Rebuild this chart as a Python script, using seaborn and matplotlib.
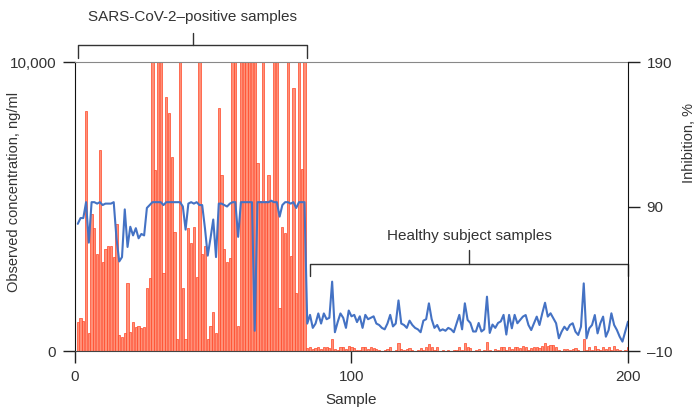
import pandas as pd
import seaborn as sns
import matplotlib.pyplot as plt

# observed concentration, ng/ml (clipped at 10,000)
positive_conc = [
    1000, 1140, 1050, 8300, 620, 4740, 4260, 3350, 6950, 3080,
    3530, 3640, 3640, 3250, 4390, 550, 480, 620, 2350, 660,
    1000, 830, 860, 800, 830, 2180, 2530, 10000, 6260, 10000,
    10000, 2700, 8790, 8240, 6710, 4120, 420, 10000, 2180, 420,
    4260, 3740, 4290, 2560, 10000, 3350, 3640, 420, 870, 1350,
    620, 8400, 6090, 3530, 3080, 3230, 10000, 10000, 870, 10000,
    10000, 10000, 10000, 10000, 10000, 6500, 5200, 10000, 5200, 6090,
    5200, 10000, 10000, 1500, 4300, 4100, 10000, 3300, 9100, 2000,
    10000, 6300, 10000, 100,
]
healthy_conc = [
    130, 60, 92, 127, 58, 127, 150, 92, 415, 58,
    40, 150, 127, 60, 185, 127, 92, 50, 40, 127,
    127, 60, 127, 92, 70, 40, 0, 30, 70, 127,
    0, 40, 275, 70, 40, 70, 92, 40, 0, 30,
    92, 50, 127, 240, 150, 40, 127, 0, 30, 0,
    40, 0, 30, 50, 127, 40, 275, 127, 92, 0,
    30, 58, 0, 30, 300, 40, 0, 58, 30, 127,
    150, 40, 150, 60, 150, 127, 92, 173, 127, 50,
    115, 150, 127, 92, 173, 265, 173, 196, 196, 150,
    35, 0, 58, 70, 20, 58, 92, 35, 0, 415,
    40, 127, 30, 173, 70, 30, 127, 58, 127, 30,
    173, 58, 20, 0, 30, 127,
]

# inhibition, %
positive_inhib = [
    78, 82, 82, 93, 65, 93, 93, 92, 93, 91,
    92, 92, 92, 93, 68, 52, 55, 88, 62, 76,
    70, 75, 68, 71, 70, 89, 91, 93, 93, 93,
    93, 91, 93, 93, 93, 93, 93, 93, 90, 74,
    92, 93, 92, 93, 91, 91, 75, 56, 68, 81,
    55, 92, 92, 91, 90, 92, 93, 93, 69, 93,
    93, 93, 93, 93, 4, 93, 93, 93, 93, 93,
    94, 93, 93, 83, 91, 93, 93, 92, 93, 89,
    93, 93, 93, 9,
]
healthy_inhib = [
    15, 6, 9, 16, 9, 16, 12, 13, 38, 3,
    10, 16, 13, 6, 18, 14, 15, 10, 14, 6,
    15, 12, 13, 14, 9, 8, 6, 5, 9, 15,
    7, 9, 25, 9, 8, 6, 11, 8, 6, 5,
    3, 11, 12, 23, 12, 6, 8, 4, 5, 4,
    6, 5, 3, 9, 15, 5, 23,
    11.5, 9.4, 3.5, 3.5, 9.4, 3.5, 5, 27.6, 2.5, 8.3,
    6, 9.4, 10.5, 15, 1.4, 15, 5.7, 15, 9.2, 11.5,
    13.8, 14.9, 8, 4.5, 9.2, 13.8, 8, 16.1, 23.4, 13.8,
    16.1, 12.6, 9.2, -1.2, 3.4, 6.8, 4.5, 8, 9.2, 3.4,
    1.1, 6.8, 36.8, -1.2, 5.7, 8, 14.9, 2.2, 9.2, 13.8,
    -0.1, 4.5, 16.1, 8, 4.5, -0.1, -3.5, 3.4, 10.3,
]

group_labels = ["SARS-CoV-2\u2013positive samples", "Healthy subject samples"]
left_ticks = [0, 10000]
left_ticklabels = ["0", "10,000"]
right_ticks = [-10, 90, 190]
right_ticklabels = ["\u201310", "90", "190"]
x_ticks = [0, 100, 200]

n_pos = len(positive_conc)
df = pd.DataFrame({
    "sample": list(range(1, n_pos + len(healthy_conc) + 1)),
    "conc": positive_conc + healthy_conc,
    "inhib": positive_inhib + healthy_inhib,
})

sns.set_style("ticks")
plt.rcParams["font.family"] = ["Liberation Sans", "DejaVu Sans"]
txt = "#333333"

fig, ax = plt.subplots(figsize=(6.99, 4.15), dpi=100)
fig.subplots_adjust(left=0.1073, right=0.8984, bottom=0.1542, top=0.8506)

sns.barplot(data=df, x="sample", y="conc", native_scale=True, width=0.8,
            color="#ff9078", edgecolor="#ff4626", linewidth=0.5,
            saturation=1, errorbar=None, ax=ax)
ax.set_xlim(0, 200)
ax.set_ylim(0, 10000)
ax.set_xticks(x_ticks)
ax.set_xticklabels([str(t) for t in x_ticks])
ax.set_yticks(left_ticks)
ax.set_yticklabels(left_ticklabels)
ax.set_xlabel("Sample", fontsize=11, color=txt, labelpad=7)
ax.set_ylabel("Observed concentration, ng/ml", fontsize=10.5, color=txt)
ax.yaxis.set_label_coords(-0.097, 0.55)

ax2 = ax.twinx()
sns.lineplot(data=df, x="sample", y="inhib", color="#4472c4", linewidth=1.5, ax=ax2)
ax2.set_ylim(-10, 190)
ax2.set_yticks(right_ticks)
ax2.set_yticklabels(right_ticklabels)
ax2.set_ylabel("Inhibition, %", fontsize=10.5, color=txt)
ax2.yaxis.set_label_coords(1.098, 0.72)
ax2.set_xlim(0, 200)

for a in (ax, ax2):
    a.tick_params(direction="out", length=8.5, width=1, colors="#222222",
                  labelcolor=txt, labelsize=11, pad=5)
ax.spines["right"].set_visible(False)
ax.spines["top"].set_color("#888888")
ax.spines["left"].set_color("#111111")
ax.spines["bottom"].set_color("#444444")
for s in ("top", "left", "bottom"):
    ax2.spines[s].set_visible(False)
ax2.spines["right"].set_color("#111111")

# group brackets
kw = dict(color="#333333", linewidth=1, clip_on=False)
x0, x1 = 1, n_pos
ax.plot([x0, x0, x1, x1], [10140, 10590, 10590, 10140], **kw)
xm = (x0 + x1) / 2
ax.plot([xm, xm], [10590, 11000], **kw)
ax.text(xm, 11560, group_labels[0], ha="center", va="center", fontsize=11, color=txt)

x0, x1 = n_pos + 1, 200
ax.plot([x0, x0, x1, x1], [2600, 3010, 3010, 2600], **kw)
xm = (x0 + x1) / 2
ax.plot([xm, xm], [3010, 3500], **kw)
ax.text(xm, 3980, group_labels[1], ha="center", va="center", fontsize=11, color=txt)

fig.savefig("out.png", dpi=100)
